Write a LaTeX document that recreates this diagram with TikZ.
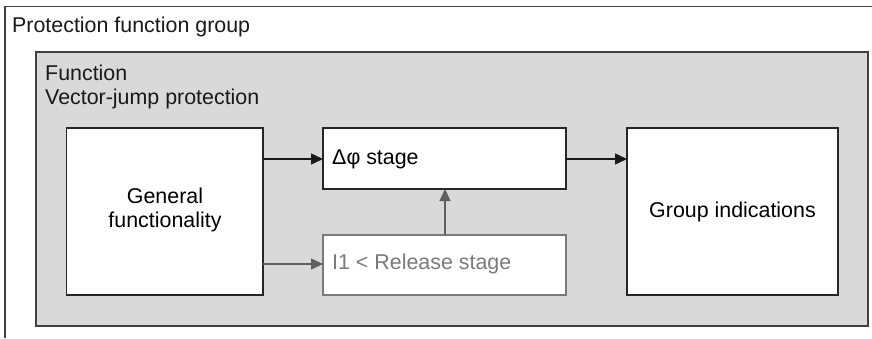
\documentclass[tikz,border=0pt]{standalone}
\usepackage{fontspec}
\setmainfont{Liberation Sans}
\usetikzlibrary{arrows.meta}
\definecolor{framecol}{HTML}{404040}
\definecolor{fillgray}{HTML}{D9D9D9}
\definecolor{relgray}{HTML}{7A7A7A}
\definecolor{arrgray}{HTML}{606060}
\begin{document}
\begin{tikzpicture}[x=1pt,y=-1pt,
  every node/.style={font=\fontsize{21.4}{23.5}\selectfont, inner sep=0pt},
  blockbox/.style={draw=black!85, fill=white, line width=1.3pt},
  relbox/.style={draw=relgray, fill=white, line width=1.3pt},
  lbl/.style={anchor=base west, text=black!90},
  darrow/.style={-{Triangle[length=12pt,width=11pt]}, line width=1.3pt, draw=black!90},
  garrow/.style={-{Triangle[length=12pt,width=11pt]}, line width=1.3pt, draw=arrgray}
]
\useasboundingbox (0,0) rectangle (872,338);
% outer group frame (open to right and bottom)
\draw[framecol, line width=1.6pt] (5,338) -- (5,6.5) -- (872,6.5);
\node[lbl] (grp) at (12,32) {Protection function group};
% function box
\draw[framecol, fill=fillgray, line width=1.4pt] (36,52) rectangle (868,326);
\node[lbl] (fn) at (45,80) {Function};
\node[lbl] (vj) at (45,104) {Vector-jump protection};
% blocks
\draw[blockbox] (66.5,128) rectangle (263,295);
\node[align=center] (gen) at (165,210) {General\\functionality};
\coordinate (genR1) at (263,159);
\coordinate (genR2) at (263,264);
\draw[blockbox] (323,128) rectangle (566,189);
\node[anchor=west] (dphi) at (332,159) {Δφ stage};
\coordinate (dphiL) at (323,159);
\coordinate (dphiR) at (566,159);
\coordinate (dphiB) at (445,189);
\draw[relbox] (323,235) rectangle (566,295);
\node[anchor=west, text=relgray] (rel) at (332,264) {I1 < Release stage};
\coordinate (relL) at (323,264);
\coordinate (relT) at (445,235);
\draw[blockbox] (627,128) rectangle (838,295);
\node (grpind) at (732.5,211.5) {Group indications};
\coordinate (giL) at (627,159);
% connectors
\draw[darrow] (genR1) -- (dphiL);
\draw[darrow] (dphiR) -- (giL);
\draw[garrow] (genR2) -- (relL);
\draw[garrow] (relT) -- (dphiB);
\end{tikzpicture}
\end{document}
